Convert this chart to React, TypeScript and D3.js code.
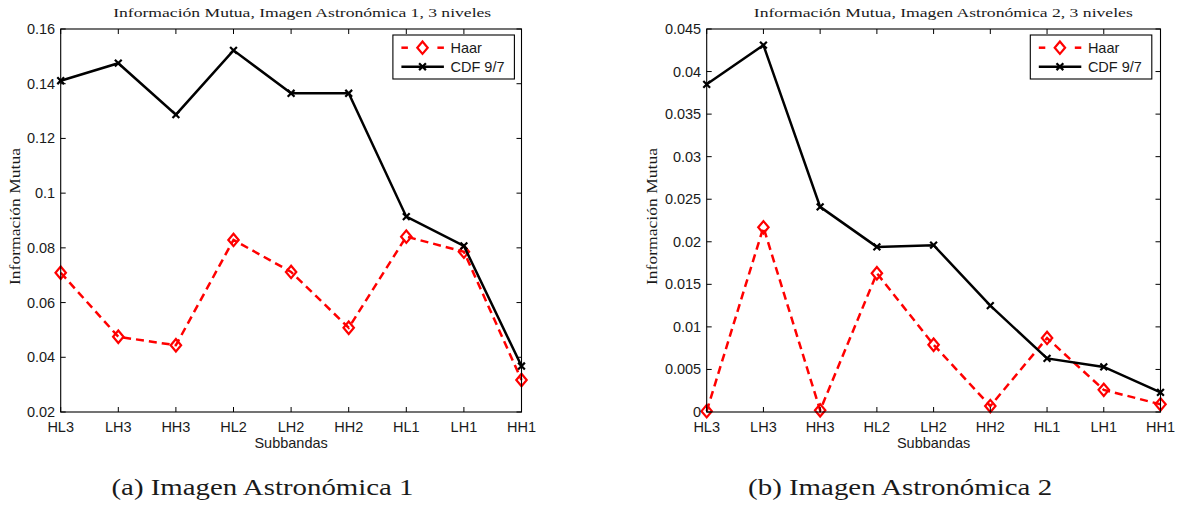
import React from "react";
import * as d3 from "d3";

// ---------- data ----------
const categories = ["HL3", "LH3", "HH3", "HL2", "LH2", "HH2", "HL1", "LH1", "HH1"];

const haarImg1 = [0.0709, 0.0475, 0.0444, 0.0829, 0.0712, 0.0508, 0.0841, 0.0786, 0.0317];
const cdfImg1 = [0.1411, 0.1475, 0.1287, 0.1522, 0.1365, 0.1365, 0.0914, 0.0807, 0.0368];

const haarImg2 = [0.0001, 0.0217, 0.0002, 0.0163, 0.0079, 0.0007, 0.0087, 0.0026, 0.0009];
const cdfImg2 = [0.0385, 0.0431, 0.0241, 0.0194, 0.0196, 0.0125, 0.0063, 0.0053, 0.0023];

const yTicks1 = [0.02, 0.04, 0.06, 0.08, 0.1, 0.12, 0.14, 0.16];
const yTickLabels1 = ["0.02", "0.04", "0.06", "0.08", "0.1", "0.12", "0.14", "0.16"];
const yTicks2 = [0, 0.005, 0.01, 0.015, 0.02, 0.025, 0.03, 0.035, 0.04, 0.045];
const yTickLabels2 = ["0", "0.005", "0.01", "0.015", "0.02", "0.025", "0.03", "0.035", "0.04", "0.045"];

const seriesNames = ["Haar", "CDF 9/7"];
const titles = [
  "Información Mutua, Imagen Astronómica 1, 3 niveles",
  "Información Mutua, Imagen Astronómica 2, 3 niveles",
];
const captions = ["(a) Imagen Astronómica 1", "(b) Imagen Astronómica 2"];
const xLabel = "Subbandas";
const yLabel = "Información Mutua";

// ---------- styles ----------
const SANS = "'Liberation Sans', Arial, Helvetica, sans-serif";
const SERIF = "'Liberation Serif', 'Times New Roman', serif";
const RED = "#ff0000";
const TEXT = "#1a1a1a";

type PanelProps = {
  left: number;
  right: number;
  top: number;
  bottom: number;
  yDomain: [number, number];
  yTicks: number[];
  yTickLabels: string[];
  haar: number[];
  cdf: number[];
  title: string;
  titleCx: number;
  titleW: number;
  caption: string;
  captionCx: number;
  captionW: number;
  yLabelX: number;
  legendLeft: number;
};

function Diamond({ x, y }: { x: number; y: number }) {
  const w = 5.2, h = 6.2;
  return (
    <path
      d={`M${x},${y - h}L${x + w},${y}L${x},${y + h}L${x - w},${y}Z`}
      fill="none"
      stroke={RED}
      strokeWidth={2.2}
    />
  );
}

function XMark({ x, y }: { x: number; y: number }) {
  const s = 3.4;
  return (
    <path
      d={`M${x - s},${y - s}L${x + s},${y + s}M${x - s},${y + s}L${x + s},${y - s}`}
      stroke="#000"
      strokeWidth={2.2}
      fill="none"
    />
  );
}

function Panel(p: PanelProps) {
  const x = d3
    .scalePoint<string>()
    .domain(categories)
    .range([p.left, p.right]);
  const y = d3.scaleLinear().domain(p.yDomain).range([p.bottom, p.top]);
  const line = d3
    .line<number>()
    .x((_, i) => x(categories[i]) as number)
    .y((d) => y(d));

  const tick = 5;
  const lg = p.legendLeft;
  const lgTop = 35;
  const lgBottom = 79;
  const lgW = 121.5;
  const row1 = 47.7;
  const row2 = 66.7;
  const sx0 = lg + 8.5;
  const sx1 = lg + 51;
  const smid = lg + 29.6;
  const tx = lg + 57.6;

  return (
    <g>
      {/* title */}
      <text
        x={p.titleCx}
        y={16.8}
        textAnchor="middle"
        fontFamily={SERIF}
        fontSize={13.5}
        fill={TEXT}
        textLength={p.titleW}
        lengthAdjust="spacingAndGlyphs"
      >
        {p.title}
      </text>

      {/* series */}
      <path
        d={line(p.haar) || ""}
        fill="none"
        stroke={RED}
        strokeWidth={2.5}
        strokeDasharray="8,5"
      />
      {p.haar.map((v, i) => (
        <Diamond key={"h" + i} x={x(categories[i]) as number} y={y(v)} />
      ))}
      <path d={line(p.cdf) || ""} fill="none" stroke="#000" strokeWidth={2.5} />
      {p.cdf.map((v, i) => (
        <XMark key={"c" + i} x={x(categories[i]) as number} y={y(v)} />
      ))}

      {/* axes box */}
      <rect
        x={p.left}
        y={p.top}
        width={p.right - p.left}
        height={p.bottom - p.top}
        fill="none"
        stroke="#000"
        strokeWidth={1.1}
      />
      {/* x ticks */}
      {categories.map((c) => {
        const xx = x(c) as number;
        return (
          <g key={c}>
            <line x1={xx} x2={xx} y1={p.bottom} y2={p.bottom - tick} stroke="#000" />
            <line x1={xx} x2={xx} y1={p.top} y2={p.top + tick} stroke="#000" />
            <text
              x={xx}
              y={432}
              textAnchor="middle"
              fontFamily={SANS}
              fontSize={14.5}
              fill={TEXT}
            >
              {c}
            </text>
          </g>
        );
      })}
      {/* y ticks */}
      {p.yTicks.map((t, i) => {
        const yy = y(t);
        return (
          <g key={"y" + i}>
            <line x1={p.left} x2={p.left + tick} y1={yy} y2={yy} stroke="#000" />
            <line x1={p.right} x2={p.right - tick} y1={yy} y2={yy} stroke="#000" />
            <text
              x={p.left - 5.5}
              y={yy + 5}
              textAnchor="end"
              fontFamily={SANS}
              fontSize={14.5}
              fill={TEXT}
            >
              {p.yTickLabels[i]}
            </text>
          </g>
        );
      })}

      {/* axis labels */}
      <text
        x={(p.left + p.right) / 2}
        y={448.3}
        textAnchor="middle"
        fontFamily={SANS}
        fontSize={14.5}
        fill={TEXT}
      >
        {xLabel}
      </text>
      <text
        transform={`translate(${p.yLabelX},216.5) rotate(-90)`}
        textAnchor="middle"
        fontFamily={SERIF}
        fontSize={14}
        fill={TEXT}
        textLength={137}
        lengthAdjust="spacingAndGlyphs"
      >
        {yLabel}
      </text>

      {/* legend */}
      <rect
        x={lg}
        y={lgTop}
        width={lgW}
        height={lgBottom - lgTop}
        fill="#fff"
        stroke="#000"
        strokeWidth={1.1}
      />
      <line x1={sx0} x2={sx0 + 6.5} y1={row1} y2={row1} stroke={RED} strokeWidth={2.5} />
      <line x1={sx1 - 6.5} x2={sx1} y1={row1} y2={row1} stroke={RED} strokeWidth={2.5} />
      <Diamond x={smid} y={row1} />
      <text x={tx} y={row1 + 5.2} fontFamily={SANS} fontSize={14.5} fill={TEXT}>
        {seriesNames[0]}
      </text>
      <line x1={sx0} x2={sx1} y1={row2} y2={row2} stroke="#000" strokeWidth={2.5} />
      <XMark x={smid} y={row2} />
      <text x={tx} y={row2 + 5.2} fontFamily={SANS} fontSize={14.5} fill={TEXT}>
        {seriesNames[1]}
      </text>

      {/* caption */}
      <text
        x={p.captionCx}
        y={495}
        textAnchor="middle"
        fontFamily={SERIF}
        fontSize={23}
        fill={TEXT}
        textLength={p.captionW}
        lengthAdjust="spacingAndGlyphs"
      >
        {p.caption}
      </text>
    </g>
  );
}

export default function App() {
  return (
    <svg
      width={1180}
      height={506}
      style={{ position: "absolute", left: 0, top: 0, background: "#fff" }}
    >
      <rect x={0} y={0} width={1180} height={506} fill="#fff" />
      <Panel
        left={60.7}
        right={521.5}
        top={29}
        bottom={412}
        yDomain={[0.02, 0.16]}
        yTicks={yTicks1}
        yTickLabels={yTickLabels1}
        haar={haarImg1}
        cdf={cdfImg1}
        title={titles[0]}
        titleCx={302.2}
        titleW={378}
        caption={captions[0]}
        captionCx={262.5}
        captionW={302}
        yLabelX={20}
        legendLeft={392.9}
      />
      <Panel
        left={706.7}
        right={1160.5}
        top={29}
        bottom={412}
        yDomain={[0, 0.045]}
        yTicks={yTicks2}
        yTickLabels={yTickLabels2}
        haar={haarImg2}
        cdf={cdfImg2}
        title={titles[1]}
        titleCx={943.3}
        titleW={379}
        caption={captions[1]}
        captionCx={900.1}
        captionW={304}
        yLabelX={657}
        legendLeft={1030.3}
      />
    </svg>
  );
}
